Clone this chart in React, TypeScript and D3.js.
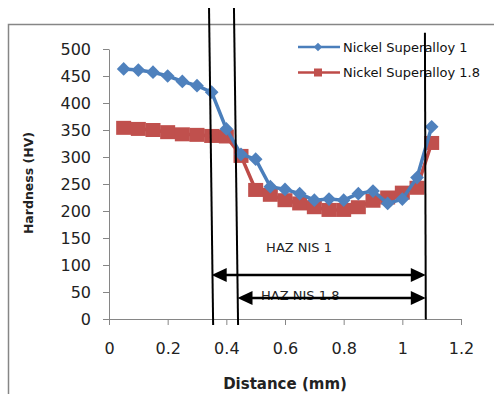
import React, { useEffect, useRef } from 'react';
import * as d3 from 'd3';

// Distances (mm)
const distances = [0.05, 0.1, 0.15, 0.2, 0.25, 0.3, 0.35, 0.4, 0.45, 0.5, 0.55, 0.6, 0.65, 0.7, 0.75, 0.8, 0.85, 0.9, 0.95, 1.0, 1.05, 1.1];
// Hardness (HV)
const alloy1 = [463, 461, 457, 450, 440, 432, 420, 352, 305, 296, 245, 240, 232, 220, 222, 220, 232, 237, 214, 222, 262, 356];
const alloy18 = [354, 352, 350, 346, 342, 341, 339, 338, 302, 239, 230, 220, 214, 207, 202, 202, 207, 219, 225, 234, 243, 326];

const seriesNames = ['Nickel Superalloy 1', 'Nickel Superalloy 1.8'];
const xTicks = [0, 0.2, 0.4, 0.6, 0.8, 1, 1.2];
const yTicks = [0, 50, 100, 150, 200, 250, 300, 350, 400, 450, 500];

// Annotation lines in data space: [x top, y top, x bottom, y bottom]
const boundaryLines = [
  [0.341, 576, 0.355, -11],
  [0.426, 576, 0.44, -11],
  [1.077, 530, 1.08, -1],
];
// HAZ arrows: [x start, x end, y]
const hazArrows = [
  [0.35, 1.08, 81.5],
  [0.438, 1.08, 39],
];
const hazLabels = [
  { text: 'HAZ NIS 1', x: 0.648, y: 124 },
  { text: 'HAZ NIS 1.8', x: 0.652, y: 36 },
];

const App: React.FC = () => {
  const svgRef = useRef<SVGSVGElement>(null);

  useEffect(() => {
    if (!svgRef.current) return;
    document.body.style.margin = '0';

    const svg = d3.select(svgRef.current);
    svg.selectAll('*').remove();

    const font = 'DejaVu Sans, sans-serif';
    const blue = '#4A7EBB';
    const red = '#BE4B48';

    const x = d3.scaleLinear().domain([0, 1.2]).range([109, 461]);
    const y = d3.scaleLinear().domain([0, 500]).range([319, 49]);

    // Chart frame
    svg
      .append('path')
      .attr('d', 'M8.5,400 L8.5,24.5 L500,24.5')
      .attr('fill', 'none')
      .attr('stroke', '#868686')
      .attr('stroke-width', 1.5);

    // Y axis
    const yAxis = svg
      .append('g')
      .attr('transform', `translate(${x(0)},0)`)
      .call(d3.axisLeft(y).tickValues(yTicks).tickSize(6).tickPadding(12).tickSizeOuter(0));
    yAxis.select('.domain').attr('stroke', '#868686');
    yAxis.selectAll('.tick line').attr('stroke', '#868686');
    yAxis
      .selectAll('.tick text')
      .attr('font-family', font)
      .attr('font-size', 16)
      .attr('fill', '#222');

    // X axis
    const xAxis = svg
      .append('g')
      .attr('transform', `translate(0,${y(0)})`)
      .call(d3.axisBottom(x).tickValues(xTicks).tickFormat(d => String(d)).tickSize(6).tickPadding(18).tickSizeOuter(0));
    xAxis.select('.domain').attr('stroke', '#868686');
    xAxis.selectAll('.tick line').attr('stroke', '#868686');
    xAxis
      .selectAll('.tick text')
      .attr('font-family', font)
      .attr('font-size', 16)
      .attr('fill', '#222');

    // Axis titles
    svg
      .append('text')
      .attr('x', 285)
      .attr('y', 389)
      .attr('text-anchor', 'middle')
      .attr('font-family', font)
      .attr('font-weight', 'bold')
      .attr('font-size', 15)
      .attr('fill', '#222')
      .text('Distance (mm)');
    svg
      .append('text')
      .attr('transform', 'translate(33,183) rotate(-90)')
      .attr('text-anchor', 'middle')
      .attr('font-family', font)
      .attr('font-weight', 'bold')
      .attr('font-size', 12.5)
      .attr('fill', '#222')
      .text('Hardness (HV)');

    const line = d3
      .line<number>()
      .x((d, i) => x(distances[i]))
      .y(d => y(d));

    // Series 1.8 (red squares)
    svg
      .append('path')
      .datum(alloy18)
      .attr('d', line)
      .attr('fill', 'none')
      .attr('stroke', red)
      .attr('stroke-width', 3.5);
    svg
      .selectAll('.sq')
      .data(alloy18)
      .enter()
      .append('rect')
      .attr('x', (d, i) => x(distances[i]) - 7.5)
      .attr('y', d => y(d) - 7)
      .attr('width', 15)
      .attr('height', 14)
      .attr('fill', '#C0504D');

    // Series 1 (blue diamonds)
    svg
      .append('path')
      .datum(alloy1)
      .attr('d', line)
      .attr('fill', 'none')
      .attr('stroke', blue)
      .attr('stroke-width', 3.5);
    const diamond = d3.symbol().type(d3.symbolDiamond2).size(120);
    svg
      .selectAll('.dm')
      .data(alloy1)
      .enter()
      .append('path')
      .attr('d', diamond)
      .attr('transform', (d, i) => `translate(${x(distances[i])},${y(d)})`)
      .attr('fill', '#4F81BD');

    // Legend
    const legend = svg.append('g');
    [blue, red].forEach((c, i) => {
      const ly = 47 + i * 25.5;
      legend
        .append('line')
        .attr('x1', 298)
        .attr('x2', 340)
        .attr('y1', ly)
        .attr('y2', ly)
        .attr('stroke', c)
        .attr('stroke-width', 2.5);
      if (i === 0) {
        legend
          .append('path')
          .attr('d', d3.symbol().type(d3.symbolDiamond2).size(45)())
          .attr('transform', `translate(318,${ly})`)
          .attr('fill', '#4F81BD');
      } else {
        legend
          .append('rect')
          .attr('x', 314)
          .attr('y', ly - 4)
          .attr('width', 8)
          .attr('height', 8)
          .attr('fill', '#C0504D');
      }
      legend
        .append('text')
        .attr('x', 343)
        .attr('y', ly + 4.8)
        .attr('font-family', font)
        .attr('font-size', 13)
        .attr('fill', '#111')
        .text(seriesNames[i]);
    });

    // HAZ labels
    hazLabels.forEach(l => {
      svg
        .append('text')
        .attr('x', x(l.x))
        .attr('y', y(l.y))
        .attr('text-anchor', 'middle')
        .attr('font-family', font)
        .attr('font-size', 13)
        .attr('fill', '#222')
        .text(l.text);
    });

    // Boundary lines
    boundaryLines.forEach(b => {
      svg
        .append('line')
        .attr('x1', x(b[0]))
        .attr('y1', y(b[1]))
        .attr('x2', x(b[2]))
        .attr('y2', y(b[3]))
        .attr('stroke', '#000')
        .attr('stroke-width', 2);
    });

    // HAZ double arrows
    const headLen = 15;
    const headHalf = 7;
    hazArrows.forEach(a => {
      const x1 = x(a[0]);
      const x2 = x(a[1]);
      const ay = y(a[2]);
      svg
        .append('line')
        .attr('x1', x1 + headLen - 2)
        .attr('x2', x2 - headLen + 2)
        .attr('y1', ay)
        .attr('y2', ay)
        .attr('stroke', '#000')
        .attr('stroke-width', 2.5);
      svg
        .append('path')
        .attr('d', `M${x1},${ay} L${x1 + headLen},${ay - headHalf} L${x1 + headLen},${ay + headHalf} Z`)
        .attr('fill', '#000');
      svg
        .append('path')
        .attr('d', `M${x2},${ay} L${x2 - headLen},${ay - headHalf} L${x2 - headLen},${ay + headHalf} Z`)
        .attr('fill', '#000');
    });
  }, []);

  return <svg ref={svgRef} width={494} height={394} style={{ display: 'block', background: '#fff' }} />;
};

export default App;
